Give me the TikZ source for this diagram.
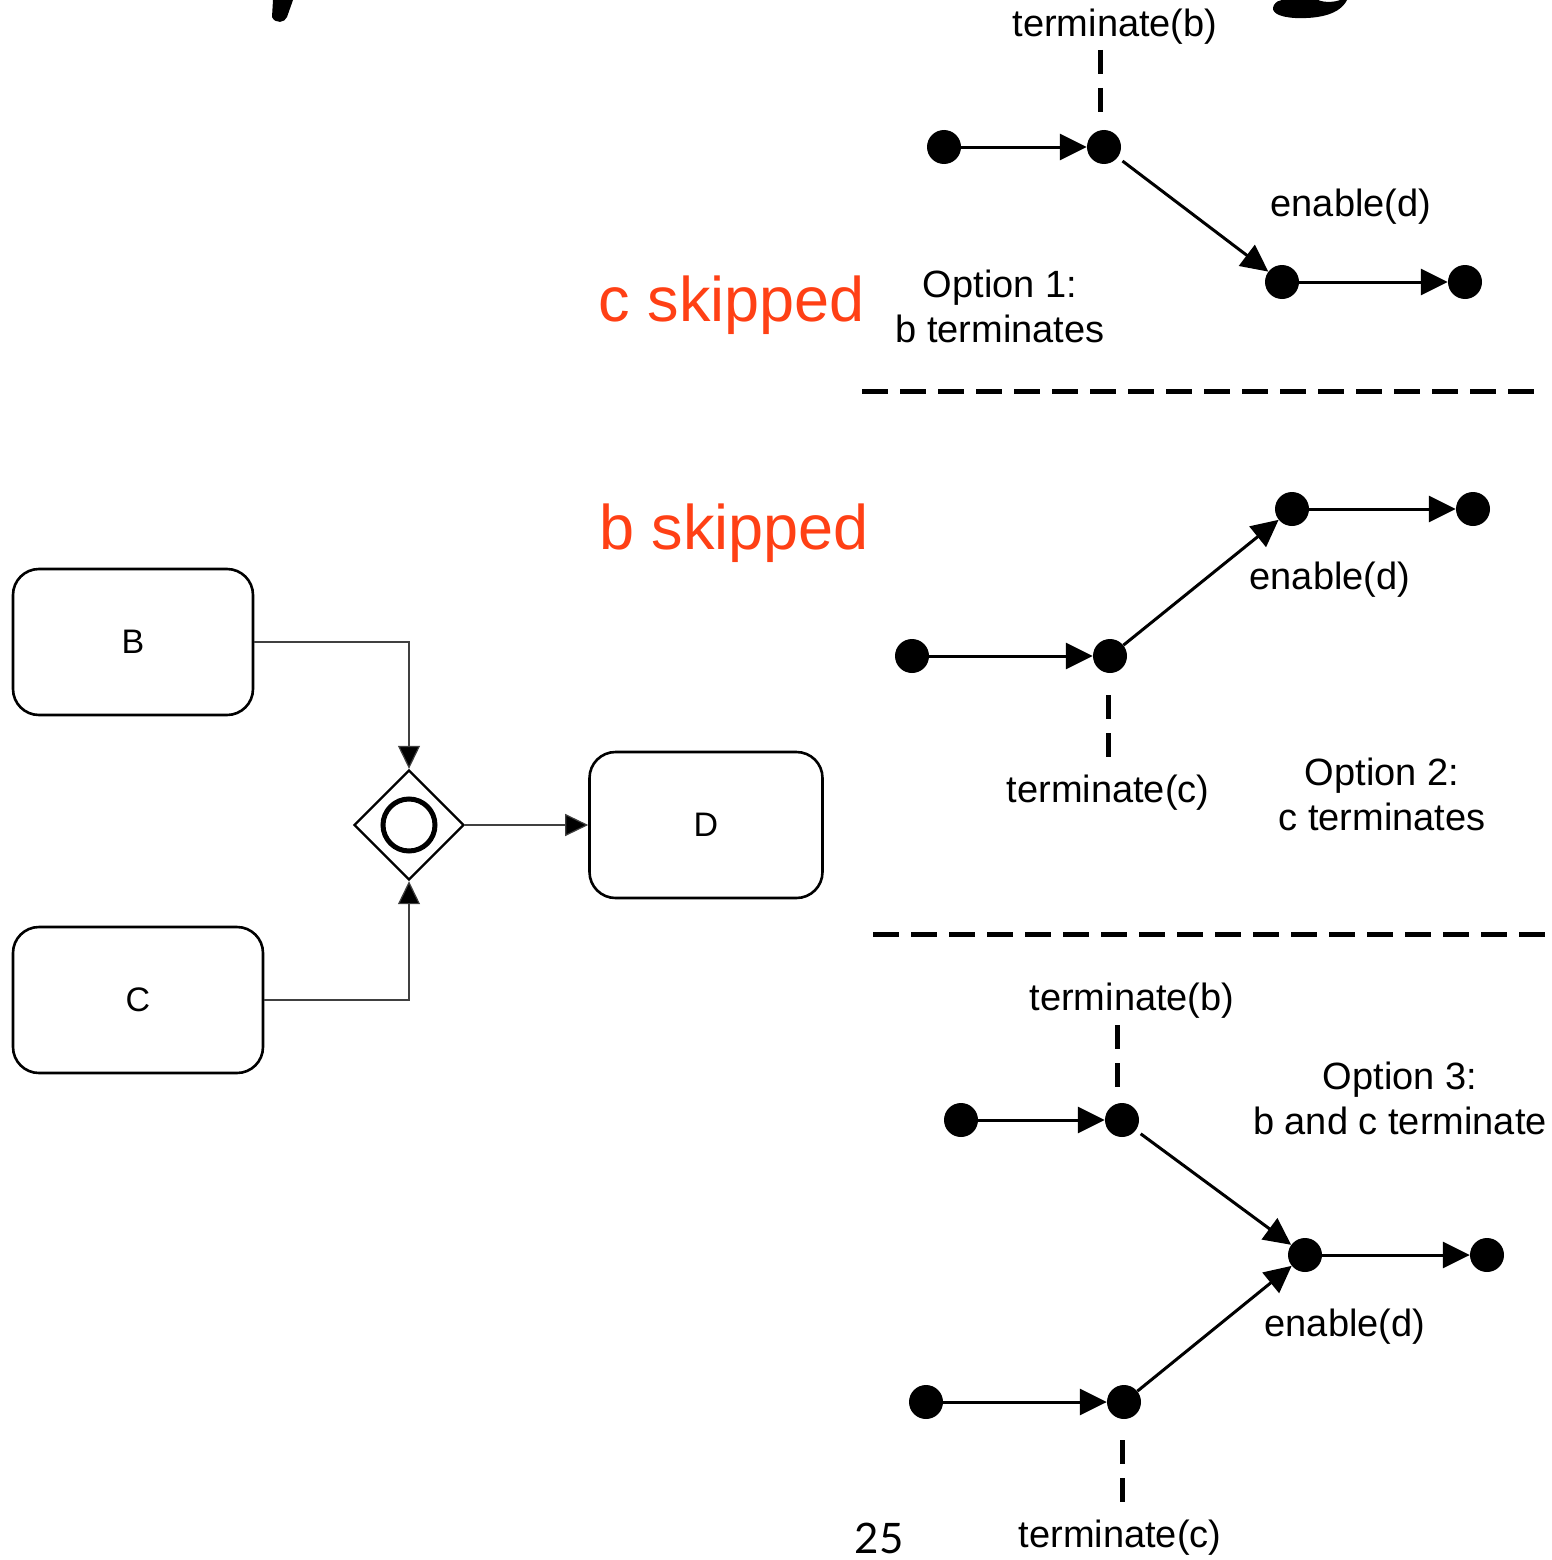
\documentclass[tikz,border=0pt]{standalone}
\usepackage{fontspec}
\setmainfont{Liberation Sans}
\newfontfamily\numfont{Lato}
\usetikzlibrary{arrows.meta,shapes.geometric}
\definecolor{skipcol}{HTML}{FF4015}
\tikzset{
  dot/.style={circle,fill=black,inner sep=0pt,minimum size=34pt},
  flow/.style={line width=3pt,-{Triangle[length=27pt,width=26pt]}},
  thin/.style={line width=1.2pt,draw=black!75,-{Triangle[length=23pt,width=22pt,fill=black]}},
  term/.style={line width=5pt,dash pattern=on 24pt off 14pt},
  sep/.style={line width=5pt,dash pattern=on 26pt off 12pt},
  lbl/.style={font=\fontsize{38}{45}\selectfont,inner sep=0pt,align=center},
  skip/.style={font=\fontsize{63}{70}\selectfont,text=skipcol,inner sep=0pt},
  task/.style={draw,line width=2.6pt,rounded corners=26pt,inner sep=0pt,font=\fontsize{34}{40}\selectfont},
}
\begin{document}
\begin{tikzpicture}[x=1pt,y=-1pt]
\useasboundingbox (0,0) rectangle (1551,1560);
% title fragments (cut off at top)
\fill (273,0) -- (293,0) -- (287,17) .. controls (285,23) and (275,24) .. (272,17) -- cycle;
\fill (1282,0) -- (1318,0) .. controls (1325,3) and (1335,2) .. (1340,0) -- (1347,0) .. controls (1340,14) and (1320,19) .. (1295,18) .. controls (1278,17) and (1270,12) .. (1274,5) .. controls (1276,2) and (1279,0) .. (1282,0) -- cycle;

% BPMN part
\node[task,minimum width=240pt,minimum height=146pt] (B) at (133,642) {B};
\node[task,minimum width=250pt,minimum height=146pt] (C) at (138,1000) {C};
\node[task,minimum width=233pt,minimum height=146pt] (D) at (706,825) {D};
\node[diamond,draw,line width=2.4pt,minimum width=110pt,minimum height=110pt,inner sep=0pt] (G) at (409,825) {};
\draw[line width=5pt] (G.center) circle[radius=26pt];
\draw[thin] (B.east) -| (G.north);
\draw[thin] (C.east) -| (G.south);
\draw[thin] (G.east) -- (D.west);

% Option 1
\node[dot] (a1) at (944,147) {};
\node[dot] (a2) at (1104,147) {};
\node[dot] (a3) at (1282,282) {};
\node[dot] (a4) at (1465,282) {};
\draw[flow] (a1) -- (a2);
\draw[flow,shorten <=6pt] (a2) -- (a3);
\draw[flow] (a3) -- (a4);
\node[lbl] (tb1) at (1115,27) {terminate(b)};
\coordinate (tb1e) at (1100,118);
\draw[term] (1100,50) -- (tb1e);
\node[lbl] (en1) at (1351,207) {enable(d)};
\node[lbl] (op1) at (1000,306) {Option 1:\\b terminates};
\node[skip] (cs) at (732,305) {c skipped};

\coordinate (s1a) at (862,391);
\coordinate (s1b) at (1537,391);
\draw[sep] (s1a) -- (s1b);

% Option 2
\node[dot] (b1) at (912,656) {};
\node[dot] (b2) at (1110,656) {};
\node[dot] (b3) at (1292,509) {};
\node[dot] (b4) at (1473,509) {};
\draw[flow] (b1) -- (b2);
\draw[flow] (b2) -- (b3);
\draw[flow] (b3) -- (b4);
\coordinate (tc2e) at (1108,760);
\draw[term] (1108,695) -- (tc2e);
\node[lbl] (tc2) at (1108,793) {terminate(c)};
\node[lbl] (en2) at (1330,580) {enable(d)};
\node[lbl] (op2) at (1382,794) {Option 2:\\c terminates};
\node[skip] (bs) at (734,533) {b skipped};

\coordinate (s2a) at (873,934);
\coordinate (s2b) at (1548,934);
\draw[sep] (s2a) -- (s2b);

% Option 3
\node[dot] (c1) at (961,1120) {};
\node[dot] (c2) at (1122,1120) {};
\node[dot] (c3) at (1305,1255) {};
\node[dot] (c4) at (1487,1255) {};
\node[dot] (c5) at (926,1402) {};
\node[dot] (c6) at (1124,1402) {};
\draw[flow] (c1) -- (c2);
\draw[flow,shorten <=6pt] (c2) -- (c3);
\draw[flow] (c3) -- (c4);
\draw[flow] (c5) -- (c6);
\draw[flow] (c6) -- (c3);
\node[lbl] (tb3) at (1132,1001) {terminate(b)};
\coordinate (tb3e) at (1117,1090);
\draw[term] (1117,1025) -- (tb3e);
\node[lbl] (op3) at (1400,1098) {Option 3:\\b and c terminate};
\node[lbl] (en3) at (1345,1327) {enable(d)};
\coordinate (tc3e) at (1122,1505);
\draw[term] (1122,1440) -- (tc3e);
\node[lbl] (tc3) at (1120,1538) {terminate(c)};
\node[font=\numfont\fontsize{42}{46}\selectfont,inner sep=0pt,anchor=base] (num) at (879,1553) {25};
\end{tikzpicture}
\end{document}
